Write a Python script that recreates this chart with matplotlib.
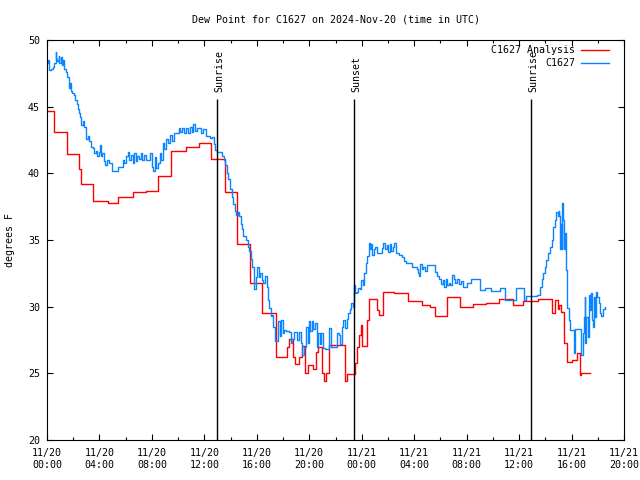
import matplotlib
matplotlib.use("Agg")
import matplotlib.pyplot as plt
import matplotlib.dates as mdates
from datetime import datetime, timedelta

plt.rcParams['font.family'] = ['DejaVu Sans Mono']
plt.rcParams['font.size'] = 7.2

# Hours after 2024-11-20 00:00 UTC
t0 = datetime(2024, 11, 20)

# C1627 Analysis (hourly steps)
ana_h = [0.0, 0.57, 1.55, 2.44, 2.6, 3.53, 4.63, 5.44, 6.58, 7.55, 8.49, 9.46,
         10.58, 11.57, 12.48, 13.57, 14.51, 15.48, 16.37, 17.46, 18.28, 18.45,
         18.78, 18.91, 19.22, 19.42, 19.68, 19.87, 20.26, 20.51, 20.69, 20.95,
         21.09, 21.28, 21.53, 22.70, 22.84, 23.49, 23.64, 23.79, 23.95, 24.02,
         24.40, 24.56, 25.2, 25.3, 25.6, 26.46, 27.53, 28.6, 29.21, 29.59, 30.5,
         31.5, 32.49, 33.48, 34.47, 35.54, 36.3, 37.44, 38.51, 38.74, 38.93,
         39.05, 39.2, 39.43, 39.66, 40.04, 40.42, 40.65, 40.72, 41.37]
ana_v = [44.65, 43.1, 41.45, 40.3, 39.2, 37.9, 37.8, 38.25, 38.6, 38.7, 39.8, 41.65,
         42.0, 42.25, 41.1, 38.6, 34.7, 31.75, 29.55, 26.25, 27.0, 27.6,
         26.2, 25.7, 26.25, 27.05, 25.0, 25.6, 25.3, 26.6, 27.0, 25.0,
         24.4, 25.0, 27.1, 24.4, 24.95, 25.75, 27.0, 27.9, 28.6, 27.05,
         29.0, 30.6, 29.75, 29.4, 31.1, 31.0, 30.4, 30.1, 30.0, 29.3, 30.7,
         29.95, 30.2, 30.25, 30.55, 30.1, 30.4, 30.6, 29.5, 30.5, 29.8,
         30.1, 29.6, 27.25, 25.85, 26.0, 26.5, 24.9, 25.05, 25.05]

# C1627 observations
obs_h = [0.0, 0.08, 0.15, 0.31, 0.46, 0.57, 0.65, 0.72, 0.79, 0.88, 0.95, 1.07,
         1.14, 1.22, 1.33, 1.45, 1.56, 1.64, 1.70, 1.75, 1.83, 1.94, 2.06, 2.14,
         2.25, 2.36, 2.44, 2.55, 2.63, 2.71, 2.82, 2.94, 3.01, 3.13, 3.24, 3.36,
         3.47, 3.58, 3.70, 3.81, 3.93, 4.04, 4.12, 4.23, 4.35, 4.46, 4.58, 4.73,
         4.92, 5.11, 5.38, 5.64, 5.76, 5.87, 6.02, 6.14, 6.25, 6.41, 6.52, 6.63,
         6.75, 6.86, 7.02, 7.17, 7.28, 7.40, 7.55, 7.70, 7.89, 8.01, 8.11, 8.20,
         8.31, 8.46, 8.58, 8.69, 8.81, 8.92, 9.04, 9.19, 9.38, 9.53, 9.68, 9.88,
         10.03, 10.18, 10.29, 10.45, 10.60, 10.75, 10.90, 11.02, 11.13, 11.29,
         11.44, 11.59, 11.74, 11.90, 12.09, 12.28, 12.43, 12.58, 12.70, 12.81,
         13.0, 13.19, 13.35, 13.50, 13.61, 13.73, 13.84, 13.96, 14.07, 14.18,
         14.30, 14.41, 14.53, 14.64, 14.76, 14.87, 14.98, 15.14, 15.29, 15.44,
         15.56, 15.67, 15.79, 15.90, 16.01, 16.13, 16.24, 16.36, 16.47, 16.62,
         16.74, 16.82, 16.93, 17.05, 17.16, 17.23, 17.35, 17.46, 17.62, 17.73,
         17.84, 17.96, 18.07, 18.22, 18.38, 18.49, 18.61, 18.72, 18.84, 18.99,
         19.10, 19.22, 19.37, 19.48, 19.60, 19.75, 19.87, 19.98, 20.09, 20.21,
         20.32, 20.44, 20.59, 20.70, 20.82, 20.93, 21.05, 21.20, 21.43, 21.54,
         21.62, 21.73, 21.89, 22.04, 22.15, 22.27, 22.38, 22.50, 22.61, 22.72,
         22.84, 22.95, 23.07, 23.18, 23.30, 23.41, 23.49, 23.64, 23.75, 23.87,
         23.98, 24.10, 24.21, 24.33, 24.44, 24.52, 24.63, 24.71, 24.78, 24.90,
         25.01, 25.17, 25.40, 25.55, 25.66, 25.78, 25.89, 26.00, 26.12, 26.23,
         26.35, 26.46, 26.61, 26.84, 27.07, 27.22, 27.38, 27.60, 27.83, 28.06,
         28.18, 28.29, 28.37, 28.48, 28.60, 28.71, 28.83, 28.98, 29.28, 29.59,
         29.74, 29.89, 30.05, 30.16, 30.27, 30.39, 30.50, 30.62, 30.73, 30.88,
         31.0, 31.11, 31.26, 31.42, 31.57, 31.72, 31.87, 32.03, 32.18, 32.33,
         32.87, 33.02, 33.40, 33.82, 34.54, 34.96, 35.80, 36.34, 36.53, 37.37,
         37.59, 37.71, 37.82, 37.98, 38.09, 38.24, 38.36, 38.51, 38.62, 38.74,
         38.81, 38.93, 39.01, 39.08, 39.14, 39.20, 39.24, 39.27, 39.35, 39.43,
         39.50, 39.58, 39.66, 39.77, 39.88, 40.13, 40.19, 40.26, 40.64, 40.72,
         40.84, 40.95, 41.00, 41.05, 41.14, 41.22, 41.30, 41.37, 41.45, 41.53,
         41.60, 41.68, 41.76, 41.87, 41.97, 42.06, 42.17, 42.28, 42.40, 42.55]
obs_v = [48.3, 48.5, 47.75, 47.8, 48.0, 48.3, 49.1, 48.6, 48.4, 48.8, 48.3, 48.7,
         48.1, 48.5, 47.8, 47.6, 47.2, 47.2, 46.4, 46.8, 46.2, 46.0, 45.9, 45.5,
         45.2, 44.8, 44.5, 44.2, 43.6, 43.9, 43.5, 43.0, 42.6, 42.8, 42.4, 42.0,
         41.9, 41.5, 41.7, 41.3, 41.6, 42.1, 41.3, 41.5, 40.9, 40.6, 41.0, 40.8,
         40.2, 40.2, 40.5, 40.5, 41.0, 40.8, 41.3, 41.6, 41.0, 41.4, 40.8, 41.5,
         40.9, 41.3, 41.1, 41.5, 41.0, 41.4, 41.0, 41.0, 41.5, 40.5, 40.2, 41.2,
         40.4, 40.8, 41.5, 41.0, 42.3, 41.8, 42.6, 42.3, 42.9, 42.4, 43.0, 43.0,
         43.4, 43.1, 43.4, 43.0, 43.4, 43.0, 43.5, 43.1, 43.7, 43.2,
         43.4, 43.4, 43.0, 43.3, 42.8, 42.8, 42.65, 42.7, 42.2, 41.75,
         41.6, 41.6, 41.3, 41.0, 40.6, 40.0, 39.6, 38.8, 38.2, 37.7,
         37.2, 36.9, 37.1, 36.8, 36.2, 35.8, 35.3, 35.0, 34.5, 34.2,
         33.6, 33.0, 31.3, 32.2, 33.0, 32.2, 32.5, 32.0, 31.8, 32.3,
         31.5, 30.5, 29.9, 29.3, 29.4, 28.5, 27.4, 27.4, 28.9, 27.8,
         29.0, 28.0, 28.25, 28.2, 28.2, 28.1, 27.3, 27.6, 28.1, 28.1,
         27.5, 28.1, 27.3, 26.4, 27.0, 28.5, 27.3, 28.9, 28.2, 28.9,
         28.3, 28.8, 27.0, 28.0, 27.2, 28.0, 26.9, 26.8, 26.8, 28.4,
         27.0, 27.0, 27.0, 27.0, 28.0, 27.9, 27.2, 28.5, 29.0, 28.4,
         29.1, 29.5, 29.8, 30.3, 30.0, 31.6, 31.0, 31.1, 31.4, 31.3,
         32.0, 31.6, 32.5, 33.3, 33.8, 34.8, 34.3, 34.7, 33.9, 34.3,
         34.5, 34.0, 34.0, 34.4, 34.8, 34.3, 34.6, 34.1, 34.7, 34.2,
         34.5, 34.8, 34.0, 33.9, 33.75, 33.4, 33.25, 33.25, 33.0, 33.0,
         32.8, 32.5, 32.3, 33.2, 32.8, 33.0, 32.7, 33.1, 33.1, 32.6,
         32.3, 32.1, 31.7, 32.0, 31.5, 32.1, 31.6, 31.8, 31.6, 32.4,
         32.1, 31.8, 32.1, 31.7, 31.9, 31.5, 31.5, 31.75, 31.8, 32.1,
         32.1, 31.25, 31.4, 31.2, 31.4, 30.5, 31.4, 30.5, 30.8, 30.9,
         31.5, 32.1, 32.5, 33.0, 33.5, 34.0, 34.5, 35.0, 36.0, 36.5,
         37.1, 36.8, 37.2, 36.8, 34.3, 36.2, 34.3, 37.75, 36.5, 34.3,
         35.5, 32.75, 29.9, 29.0, 28.25, 28.25, 26.5, 28.3, 28.3, 26.4,
         28.0, 29.25, 30.75, 27.25, 29.2, 27.75, 30.9, 29.75, 31.0, 29.0,
         28.5, 30.75, 29.25, 31.1, 30.75, 30.25, 29.5, 29.3, 29.8, 30.0]

sun_h = [12.96, 23.41, 36.91]
sun_names = ["Sunrise", "Sunset", "Sunrise"]

ana_t = [t0 + timedelta(hours=h) for h in ana_h]
obs_t = [t0 + timedelta(hours=h) for h in obs_h]

fig = plt.figure(figsize=(6.4, 4.8), dpi=100)
ax = fig.add_axes([47 / 640, 40 / 480, 577 / 640, 400 / 480])

red = '#ff0000'
blue = '#0a84ff'
ax.plot(ana_t, ana_v, color=red, lw=1.0, drawstyle='steps-post')
ax.plot(obs_t, obs_v, color=blue, lw=1.0, drawstyle='steps-post')

# sunrise / sunset markers
for h, name in zip(sun_h, sun_names):
    ts = t0 + timedelta(hours=h)
    ax.vlines(ts, 20, 45.55, color='black', lw=1.0)
    ax.annotate(name, (mdates.date2num(ts), 46.1), xytext=(1.5, 0),
                textcoords='offset points', rotation=90, ha='center', va='bottom')

ax.set_xlim(t0, t0 + timedelta(hours=44))
ax.set_ylim(20, 50)
ax.xaxis.set_major_locator(mdates.HourLocator(byhour=range(0, 24, 4)))
ax.xaxis.set_minor_locator(mdates.HourLocator(byhour=range(0, 24, 2)))
ax.xaxis.set_major_formatter(mdates.DateFormatter('%m/%d\n%H:%M'))
ax.set_yticks([20, 25, 30, 35, 40, 45, 50])
ax.tick_params(which='both', direction='in', top=True, right=True, width=0.8)
ax.tick_params(which='major', length=4)
ax.tick_params(which='minor', length=2.5)
ax.tick_params(axis='x', pad=6)
ax.tick_params(axis='y', pad=5)
for s in ax.spines.values():
    s.set_linewidth(0.8)

ax.set_ylabel('degrees F')
ax.yaxis.set_label_coords(-32 / 577, 0.5)

fig.text(335.5 / 640, 1 - 20 / 480, 'Dew Point for C1627 on 2024-Nov-20 (time in UTC)',
         ha='center', va='center')

# legend drawn by hand so labels are right aligned
for i, (lab, c) in enumerate([("C1627 Analysis", red), ("C1627", blue)]):
    y = 1 - (10 + 12.7 * i) / 400
    ax.text(0.915, y, lab, transform=ax.transAxes, ha='right', va='center')
    ax.plot([0.9255, 0.974], [y, y], color=c, lw=1.0, transform=ax.transAxes)

fig.savefig('out.png', dpi=100)
